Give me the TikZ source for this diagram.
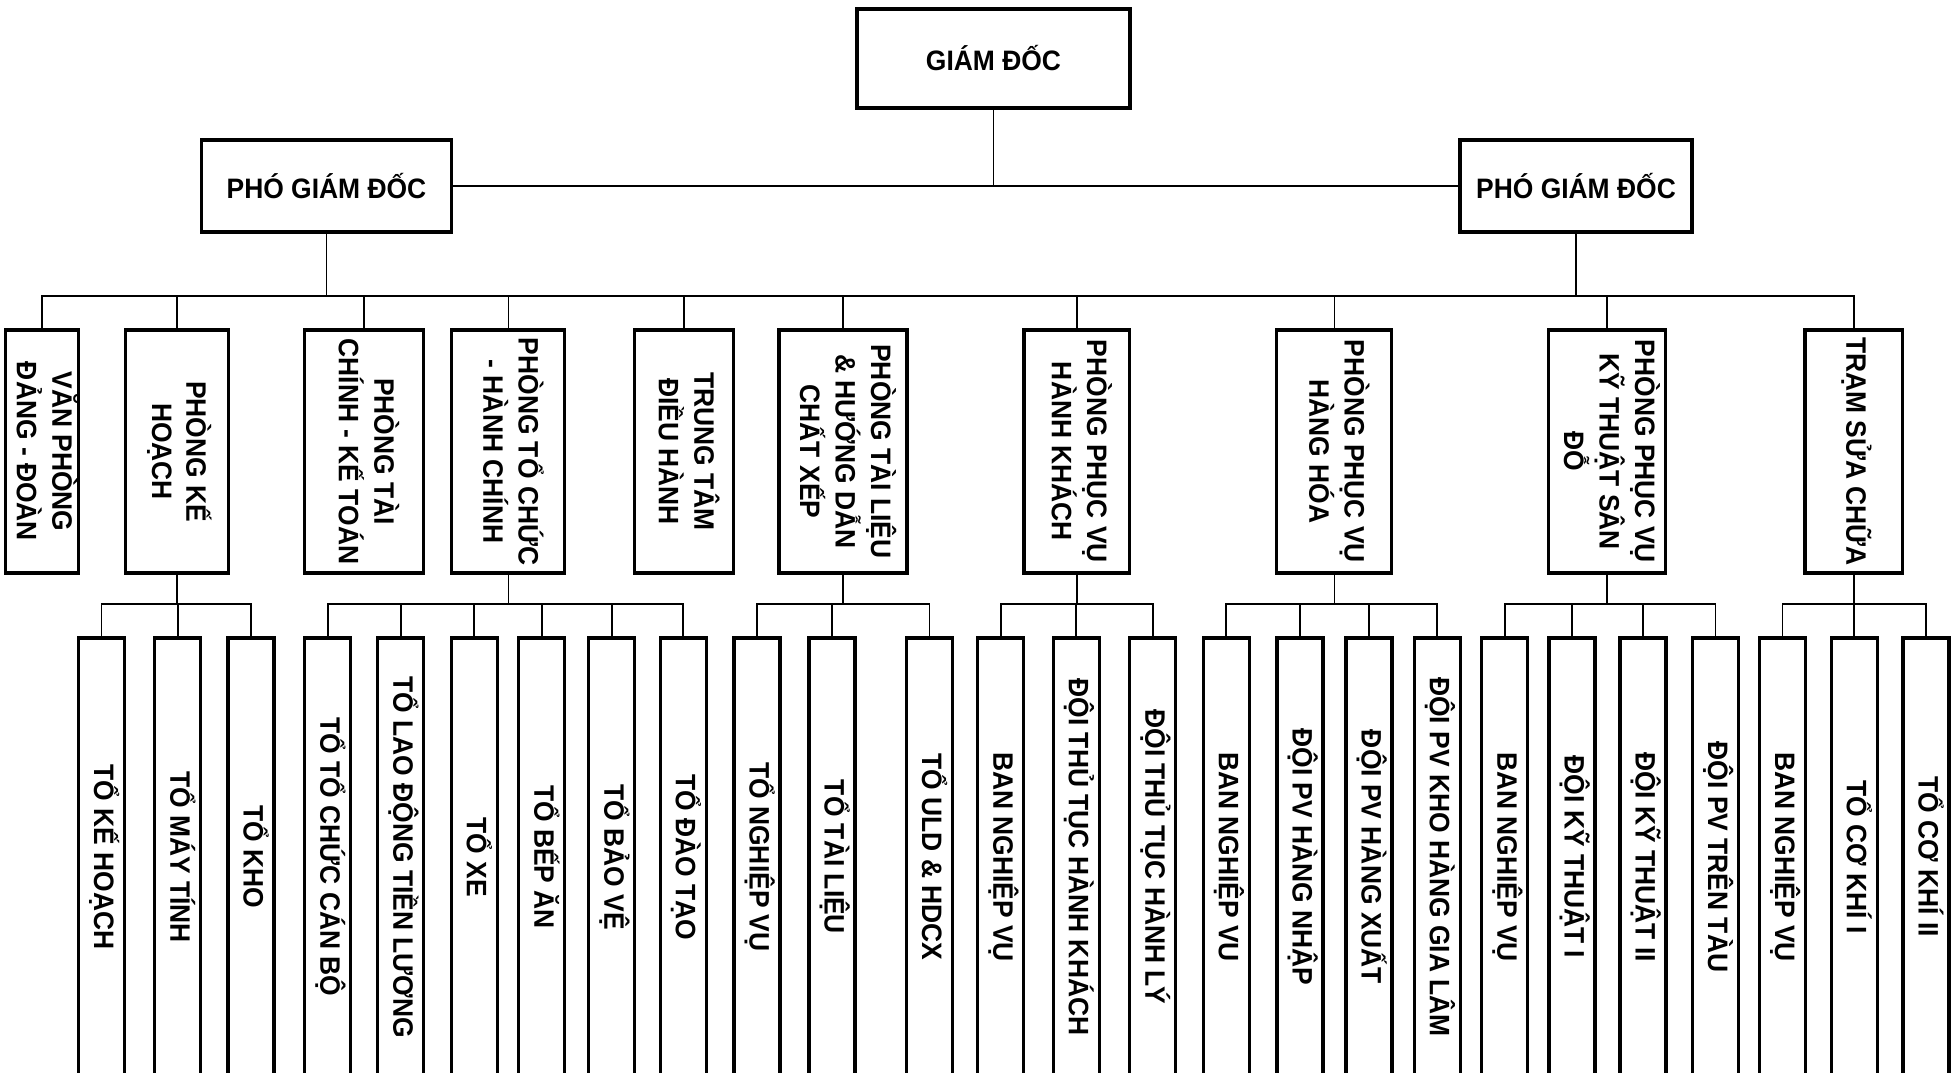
\documentclass[tikz,border=0pt]{standalone}
\usepackage{fontspec}
\setmainfont{Liberation Sans}[FakeStretch=0.94]
\usetikzlibrary{positioning}
\newcommand{\vlabel}[1]{\rotatebox{-90}{\begin{tabular}{@{}c@{}}#1\end{tabular}}}

\begin{document}
\begin{tikzpicture}[
    x=0.1mm, y=-0.1mm,
    line width=0.5pt,
    unit/.style={rectangle, draw, line width=0.9pt, inner sep=0pt, font=\fontsize{8}{9.8}\selectfont\bfseries},
    board/.style={unit, minimum height=24.3mm},
    team/.style={unit, minimum width=4.6mm, minimum height=43.8mm}
]
    \clip (0,0) rectangle (1957,1073);
    \fill[white] (0,0) rectangle (1957,1073);

    % Directors
    \node[unit, minimum width=27.3mm, minimum height=9.9mm] (gd) at (993.5,58.5) {GIÁM ĐỐC};
    \node[unit, minimum width=25mm, minimum height=9.2mm] (pgdl) at (326.5,186) {PHÓ GIÁM ĐỐC};
    \node[unit, minimum width=23.2mm, minimum height=9.2mm] (pgdr) at (1576,186) {PHÓ GIÁM ĐỐC};

    % Departments
    \node[board, minimum width=7.3mm] (vp) at (42,451.5) {\vlabel{VĂN PHÒNG\\ĐẢNG - ĐOÀN}};
    \node[board, minimum width=10.3mm] (kh) at (176.7,451.5) {\vlabel{PHÒNG KẾ\\HOẠCH}};
    \node[board, minimum width=11.9mm] (tckt) at (364,451.5) {\vlabel{PHÒNG TÀI\\CHÍNH - KẾ TOÁN}};
    \node[board, minimum width=11.3mm] (tchc) at (508.4,451.5) {\vlabel{PHÒNG TỔ CHỨC\\- HÀNH CHÍNH}};
    \node[board, minimum width=9.9mm] (ttdh) at (684,451.5) {\vlabel{TRUNG TÂM\\ĐIỀU HÀNH}};
    \node[board, minimum width=12.8mm] (tl) at (843,451.5) {\vlabel{PHÒNG TÀI LIỆU\\\& HƯỚNG DẪN\\CHẤT XẾP}};
    \node[board, minimum width=10.55mm] (hk) at (1076.8,451.5) {\vlabel{PHÒNG PHỤC VỤ\\HÀNH KHÁCH}};
    \node[board, minimum width=11.5mm] (hh) at (1334.4,451.5) {\vlabel{PHÒNG PHỤC VỤ\\HÀNG HÓA}};
    \node[board, minimum width=11.75mm] (kt) at (1607,451.5) {\vlabel{PHÒNG PHỤC VỤ\\KỸ THUẬT SÂN\\ĐỖ}};
    \node[board, minimum width=9.75mm] (sc) at (1853.7,451.5) {\vlabel{TRẠM SỬA CHỮA}};

    % Teams
    \node[team] (tkh) at (101.5,857) {\vlabel{TỔ KẾ HOẠCH}};
    \node[team] (tmt) at (177.7,857) {\vlabel{TỔ MÁY TÍNH}};
    \node[team] (tk) at (251,857) {\vlabel{TỔ KHO}};

    \node[team] (ttc) at (327.7,857) {\vlabel{TỔ TỔ CHỨC CÁN BỘ}};
    \node[team] (tld) at (400.9,857) {\vlabel{TỔ LAO ĐỘNG TIỀN LƯƠNG}};
    \node[team] (tx) at (474.3,857) {\vlabel{TỔ XE}};
    \node[team] (tba) at (541.9,857) {\vlabel{TỔ BẾP ĂN}};
    \node[team] (tbv) at (611.7,857) {\vlabel{TỔ BẢO VỆ}};
    \node[team] (tdt) at (683.2,857) {\vlabel{TỔ ĐÀO TẠO}};

    \node[team] (tnv) at (757,857) {\vlabel{TỔ NGHIỆP VỤ}};
    \node[team] (ttl) at (832,857) {\vlabel{TỔ TÀI LIỆU}};
    \node[team] (tuld) at (929.5,857) {\vlabel{TỔ ULD \& HDCX}};

    \node[team] (bnvhk) at (1000.9,857) {\vlabel{BAN NGHIỆP VỤ}};
    \node[team] (dttk) at (1076.3,857) {\vlabel{ĐỘI THỦ TỤC HÀNH KHÁCH}};
    \node[team] (dttl) at (1152.8,857) {\vlabel{ĐỘI THỦ TỤC HÀNH LÝ}};

    \node[team] (bnvhh) at (1226.3,857) {\vlabel{BAN NGHIỆP VU}};
    \node[team] (dpvn) at (1300,857) {\vlabel{ĐỘI PV HÀNG NHẬP}};
    \node[team] (dpvx) at (1369,857) {\vlabel{ĐỘI PV HÀNG XUẤT}};
    \node[team] (dpvk) at (1437.3,857) {\vlabel{ĐỘI PV KHO HÀNG GIA LÂM}};

    \node[team] (bnvkt) at (1504.8,857) {\vlabel{BAN NGHIỆP VỤ}};
    \node[team] (dkt1) at (1572,857) {\vlabel{ĐỘI KỸ THUẬT I}};
    \node[team] (dkt2) at (1643,857) {\vlabel{ĐỘI KỸ THUẬT II}};
    \node[team] (dpvt) at (1715.6,857) {\vlabel{ĐỘI PV TRÊN TÀU}};

    \node[team] (bnvsc) at (1782.6,857) {\vlabel{BAN NGHIỆP VỤ}};
    \node[team] (tck1) at (1854.2,857) {\vlabel{TỔ CƠ KHÍ I}};
    \node[team] (tck2) at (1926,857) {\vlabel{TỔ CƠ KHÍ II}};

    % Top lines
    \draw (pgdl.east) -- (pgdr.west);
    \draw (gd.south) -- (gd.south |- pgdl.east);

    % Main bus
    \coordinate (bus) at (pgdl.south |- 0,296);
    \draw (pgdl.south) -- (bus);
    \draw (pgdr.south) -- (pgdr.south |- bus);
    \draw (bus) -| (vp.north);
    \draw (bus) -| (kh.north);
    \draw (bus) -| (tckt.north);
    \draw (bus) -| (tchc.north);
    \draw (bus) -| (ttdh.north);
    \draw (bus) -| (tl.north);
    \draw (bus) -| (hk.north);
    \draw (bus) -| (hh.north);
    \draw (bus) -| (kt.north);
    \draw (bus) -| (sc.north);

    % Team buses
    \coordinate (bkh) at (kh.south |- 0,604);
    \draw (kh.south) -- (bkh);
    \draw (bkh) -| (tkh.north);
    \draw (bkh) -| (tmt.north);
    \draw (bkh) -| (tk.north);

    \coordinate (btchc) at (tchc.south |- 0,604);
    \draw (tchc.south) -- (btchc);
    \draw (btchc) -| (ttc.north);
    \draw (btchc) -| (tld.north);
    \draw (btchc) -| (tx.north);
    \draw (btchc) -| (tba.north);
    \draw (btchc) -| (tbv.north);
    \draw (btchc) -| (tdt.north);

    \coordinate (btl) at (tl.south |- 0,604);
    \draw (tl.south) -- (btl);
    \draw (btl) -| (tnv.north);
    \draw (btl) -| (ttl.north);
    \draw (btl) -| (tuld.north);

    \coordinate (bhk) at (hk.south |- 0,604);
    \draw (hk.south) -- (bhk);
    \draw (bhk) -| (bnvhk.north);
    \draw (bhk) -| (dttk.north);
    \draw (bhk) -| (dttl.north);

    \coordinate (bhh) at (hh.south |- 0,604);
    \draw (hh.south) -- (bhh);
    \draw (bhh) -| (bnvhh.north);
    \draw (bhh) -| (dpvn.north);
    \draw (bhh) -| (dpvx.north);
    \draw (bhh) -| (dpvk.north);

    \coordinate (bkt) at (kt.south |- 0,604);
    \draw (kt.south) -- (bkt);
    \draw (bkt) -| (bnvkt.north);
    \draw (bkt) -| (dkt1.north);
    \draw (bkt) -| (dkt2.north);
    \draw (bkt) -| (dpvt.north);

    \coordinate (bsc) at (sc.south |- 0,604);
    \draw (sc.south) -- (bsc);
    \draw (bsc) -| (bnvsc.north);
    \draw (bsc) -| (tck1.north);
    \draw (bsc) -| (tck2.north);
\end{tikzpicture}
\end{document}
